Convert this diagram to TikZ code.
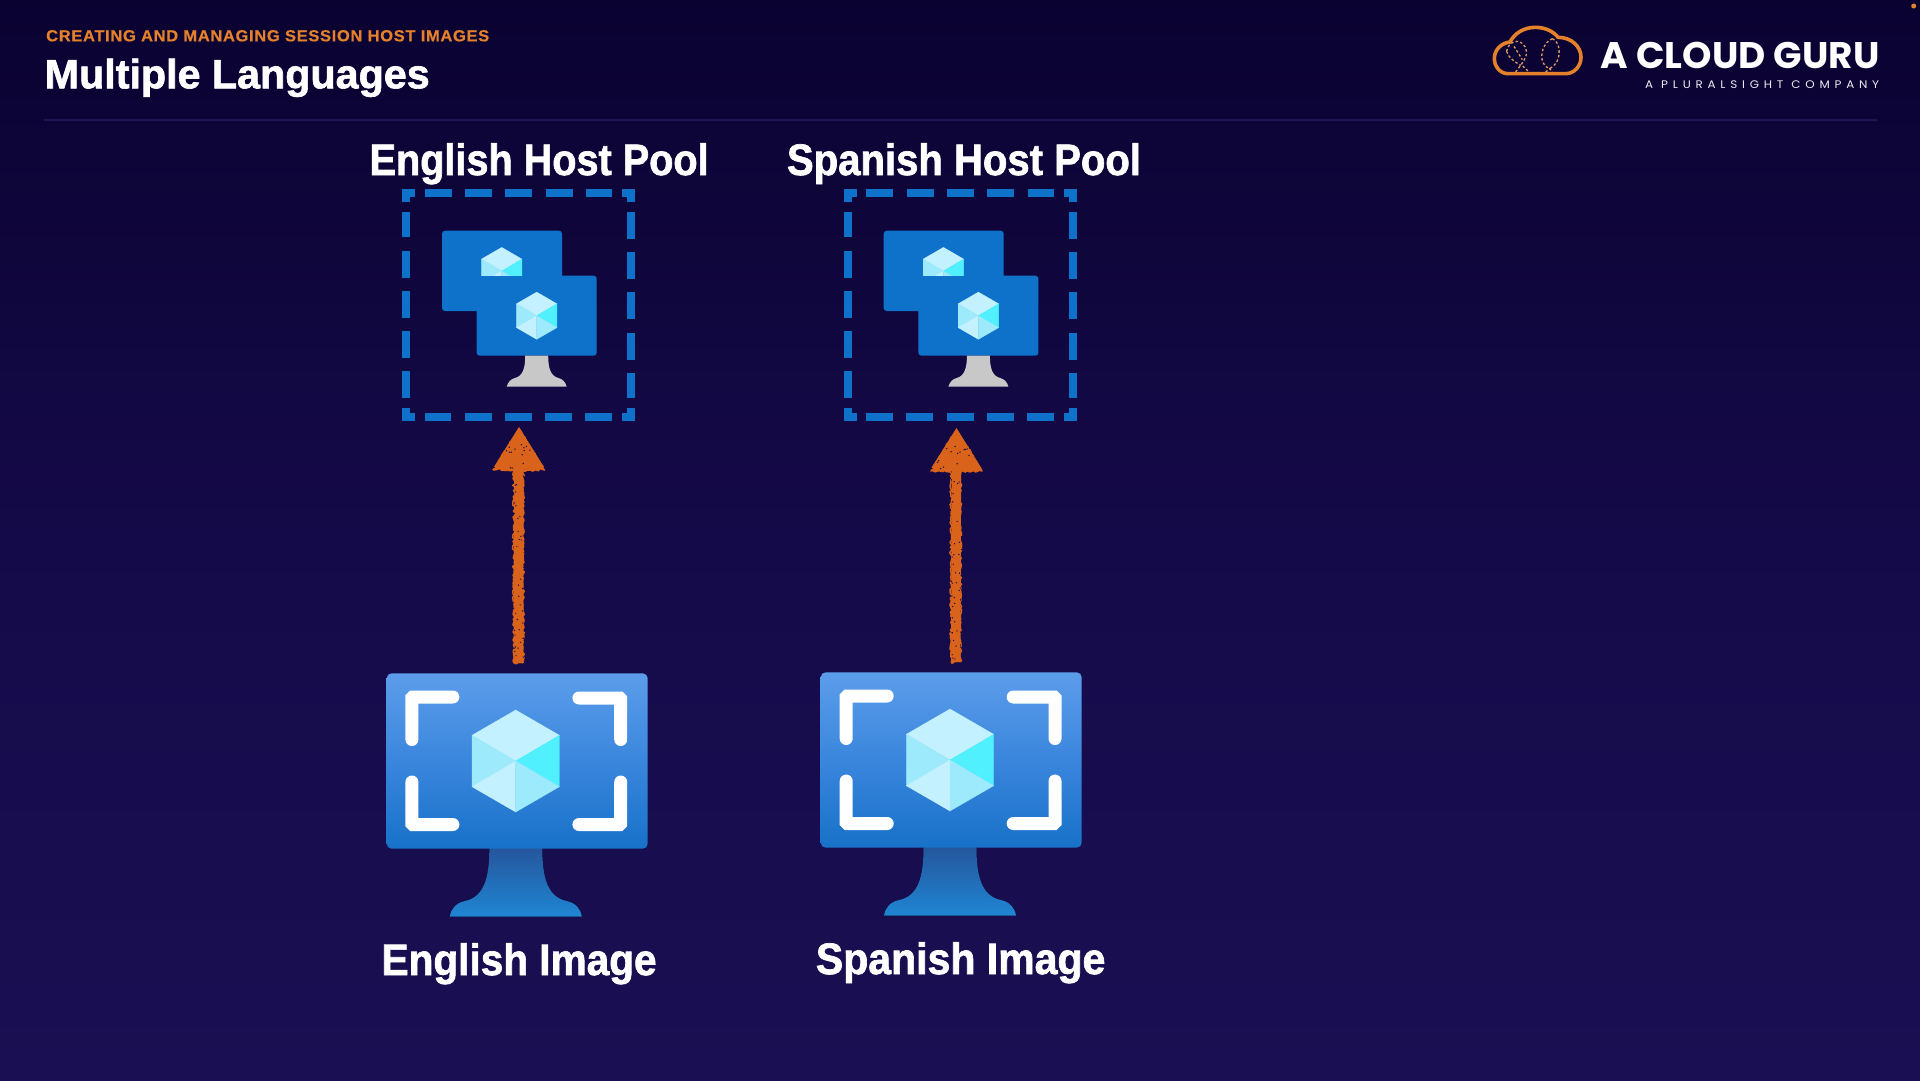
\documentclass[tikz,border=0pt]{standalone}
\usepackage{fontspec}
\setmainfont{Liberation Sans}
\newfontfamily\logofont{Poppins}
\usetikzlibrary{calc,arrows.meta,decorations.pathmorphing}
\definecolor{bgtop}{HTML}{0A0231}
\definecolor{bgmid}{HTML}{150A49}
\definecolor{bgbot}{HTML}{1A0F52}
\definecolor{acgorange}{HTML}{E5812B}
\definecolor{logodash}{HTML}{DE9A62}
\definecolor{chalk}{HTML}{D9631A}
\definecolor{poolblue}{HTML}{0F72CA}
\definecolor{cubeA}{HTML}{C3F1FF}
\definecolor{cubeB}{HTML}{9CEAFB}
\definecolor{cubeC}{HTML}{50F0FF}
\definecolor{scrtop}{HTML}{5C9DEA}
\definecolor{scrmid}{HTML}{3A86DD}
\definecolor{scrbot}{HTML}{1871C8}
\definecolor{standtop}{HTML}{25569C}
\definecolor{standbot}{HTML}{1F86D3}
\definecolor{rulecol}{HTML}{1E1552}
\definecolor{standgrey}{HTML}{C8C8C8}
\newcommand{\labelfit}[2]{\resizebox{#1pt}{\height}{#2}}
\tikzset{
  labeltext/.style={anchor=base west,inner sep=0,text=white,font=\fontsize{44}{48}\selectfont\bfseries\addfontfeature{FakeBold=1.6}},
  poolnode/.style={draw=none,inner sep=0,outer sep=0,minimum width=225pt,minimum height=224pt},
  poolline/.style={draw=poolblue,line width=8pt,line cap=butt,miter limit=10},
  pooldash/.style={poolline,shorten <=18.6pt,shorten >=18.6pt,dash pattern=on 27pt off 13.3pt},
  screennode/.style={draw=none,inner sep=0,outer sep=0,minimum width=261pt,minimum height=175.4pt,rounded corners=5pt,
    top color=scrtop,bottom color=scrbot,middle color=scrmid},
  bracket/.style={draw=white,line width=13pt,line cap=round,rounded corners=1pt},
  chalkline/.style={draw=chalk,line width=9.5pt,line cap=butt,-{Triangle[width=50pt,length=40pt,line width=0pt]}},
  chalkedge/.style={draw=chalk,line width=1.5pt,line join=round,decorate,decoration={random steps,segment length=2pt,amplitude=1.3pt}},
  speck/.style={fill=bgmid},
  facet/.style={fill=#1,draw=#1,line width=0.3pt,line join=round},
  vmcube/.pic={
    \path[facet=cubeA] (0,-51)--(43.7,-25.7)--(0,0)--(-43.7,-25.7)--cycle;
    \path[facet=cubeB] (-43.7,-25.7)--(0,0)--(-43.7,25.7)--cycle;
    \path[facet=cubeC] (43.7,-25.7)--(0,0)--(43.7,25.7)--cycle;
    \path[facet=cubeA] (-43.7,25.7)--(0,0)--(0,51)--cycle;
    \path[facet=cubeB] (43.7,25.7)--(0,0)--(0,51)--cycle;
  },
  bigstand/.pic={
    \fill[top color=standtop,bottom color=standbot]
      (-26.5,87) -- (26.5,87) .. controls (26.5,115) and (31,136) .. (51,140)
      .. controls (60,142) and (65,148) .. (66,155.7) -- (-66,155.7)
      .. controls (-65,148) and (-60,142) .. (-51,140)
      .. controls (-31,136) and (-26.5,115) .. (-26.5,87) -- cycle;
  },
  hostpc/.pic={
    \fill[poolblue,rounded corners=3pt] (-76.5,-74.3) rectangle (43.5,6);
    \fill[poolblue,rounded corners=3pt] (-41.8,-29.3) rectangle (78.2,50.7);
    \begin{scope}
      \clip (-60,-80) rectangle (30,-29.3);
      \pic[scale=0.463] at (-16.8,-34) {vmcube};
    \end{scope}
    \pic[scale=0.463] at (18.2,10.7) {vmcube};
    \fill[standgrey] (6.7,50.7) -- (29.7,50.7) .. controls (29.7,63) and (32,71) .. (40,73)
      .. controls (44,74) and (47,77) .. (48.2,81.7) -- (-11.8,81.7)
      .. controls (-10.6,77) and (-7.6,74) .. (-3.6,73)
      .. controls (4.4,71) and (6.7,63) .. (6.7,50.7) -- cycle;
  },
}
\newcommand{\pooldashes}[1]{%
  \draw[pooldash] (#1.north west) -- (#1.north east);
  \draw[pooldash] (#1.north east) -- (#1.south east);
  \draw[pooldash] (#1.south east) -- (#1.south west);
  \draw[pooldash] (#1.south west) -- (#1.north west);
  \draw[poolline] ($(#1.north west)+(0,9)$) -- (#1.north west) -- ($(#1.north west)+(9,0)$);
  \draw[poolline] ($(#1.north east)+(0,9)$) -- (#1.north east) -- ($(#1.north east)+(-9,0)$);
  \draw[poolline] ($(#1.south west)+(0,-9)$) -- (#1.south west) -- ($(#1.south west)+(9,0)$);
  \draw[poolline] ($(#1.south east)+(0,-9)$) -- (#1.south east) -- ($(#1.south east)+(-9,0)$);
}
\newcommand{\screenmarks}[1]{%
  \draw[bracket] ($(#1)+(-62.8,-64)$) -- ($(#1)+(-103.8,-64)$) -- ($(#1)+(-103.8,-21.5)$);
  \draw[bracket] ($(#1)+(63.2,-63)$) -- ($(#1)+(105,-63)$) -- ($(#1)+(105,-21.5)$);
  \draw[bracket] ($(#1)+(-62.8,63.5)$) -- ($(#1)+(-103.8,63.5)$) -- ($(#1)+(-103.8,21)$);
  \draw[bracket] ($(#1)+(63.2,63.5)$) -- ($(#1)+(105,63.5)$) -- ($(#1)+(105,21)$);
  \pic at (#1) {vmcube};
}
\newcommand{\chalkarrow}[2]{%
  \draw[chalkline] (#1) -- (#2);
  \draw[chalkedge] ($(#1)+(-4.6,0)$) -- ($(#1)+(-4.6,-192)$);
  \draw[chalkedge] ($(#1)+(4.6,0)$) -- ($(#1)+(4.6,-192)$);
  \draw[chalkedge] ($(#1)+(-4.6,0)$) -- ($(#1)+(4.6,0)$);
  \draw[chalkedge,fill=chalk] ($(#2)+(0,3)$) -- ($(#2)+(-25.5,43)$) -- ($(#2)+(25.5,43)$) -- cycle;
  \foreach \i in {1,...,44}{
    \pgfmathsetmacro{\sx}{-5.5+11*rnd}
    \pgfmathsetmacro{\sy}{48+185*rnd}
    \fill[speck] ($(#2)+(\sx,\sy)$) circle (0.7);
  }
  \foreach \i in {1,...,14}{
    \pgfmathsetmacro{\sy}{16+26*rnd}
    \pgfmathsetmacro{\sx}{(rnd-0.5)*1.1*\sy}
    \fill[speck] ($(#2)+(\sx,\sy)$) circle (0.75);
  }
}
\begin{document}
\begin{tikzpicture}[x=1pt,y=-1pt]
\useasboundingbox (0,0) rectangle (1920,1080);
\fill[top color=bgtop,bottom color=bgbot,middle color=bgmid] (0,0) rectangle (1920,1080);
\pgfmathsetseed{4242}

% header
\node[anchor=base west,inner sep=0,text=acgorange,font=\fontsize{16}{18}\selectfont\bfseries\addfontfeature{LetterSpace=4,FakeBold=0.5}] (kicker) at (46,41.3)
  {\labelfit{443}{CREATING AND MANAGING SESSION HOST IMAGES}};
\node[anchor=base west,inner sep=0,text=white,font=\fontsize{41}{44}\selectfont\bfseries\addfontfeature{FakeBold=1.6}] (title) at (44.5,88.3)
  {\labelfit{385}{Multiple Languages}};
\draw[draw=rulecol,line width=2.5pt] (44,120) -- (1877,120);

% logo
\begin{scope}[shift={(1484,18)},x=0.3333pt,y=-0.3333pt]
  \draw[acgorange,line width=3.6pt,line join=round]
    (72,167) .. controls (48,167) and (31,145) .. (31,122)
    .. controls (31,95) and (52,75) .. (78,72)
    .. controls (92,45) and (120,28) .. (155,28)
    .. controls (185,28) and (210,42) .. (222,58)
    .. controls (262,58) and (291,85) .. (291,118)
    .. controls (291,145) and (270,167) .. (245,167) -- cycle;
  \draw[logodash,line width=1.3pt,dash pattern=on 2.5pt off 2.2pt]
    (68,100) .. controls (70,85) and (80,72) .. (98,70)
    .. controls (122,72) and (132,95) .. (125,118)
    .. controls (120,130) and (112,132) .. (112,140) -- (135,162)
    (68,100) .. controls (72,118) and (90,130) .. (110,142)
    (90,85) -- (115,125)
    (95,162) -- (110,142);
  \draw[logodash,line width=1.3pt,dash pattern=on 2.5pt off 2.2pt]
    (205,62) .. controls (180,72) and (165,110) .. (178,135) .. controls (183,145) and (190,150) .. (197,152)
    (205,62) .. controls (230,72) and (232,120) .. (212,140) .. controls (205,147) and (200,150) .. (197,152)
    (185,162) -- (197,152) -- (205,162);
\end{scope}
\node[anchor=base west,inner sep=0,text=white,font=\logofont\fontsize{37}{40}\selectfont\bfseries] (logomain) at (1600.7,68.3)
  {\labelfit{278.5}{A CLOUD GURU}};
\node[anchor=base west,inner sep=0,text=white!92!bgtop,font=\logofont\fontsize{11}{14}\selectfont\addfontfeature{LetterSpace=40}] (logosub) at (1645,88.6)
  {\labelfit{234}{A PLURALSIGHT COMPANY}};
\fill[acgorange] (1913.7,6) circle (2.5);

% host pools
\node[poolnode] (poolA) at (518.5,305) {};
\node[poolnode] (poolB) at (960.2,305) {};
\pooldashes{poolA}
\pooldashes{poolB}
\pic at (poolA.center) {hostpc};
\pic at (poolB.center) {hostpc};
\node[labeltext] (poolAlabel) at (369.4,175) {\labelfit{339}{English Host Pool}};
\node[labeltext] (poolBlabel) at (786.8,175) {\labelfit{354}{Spanish Host Pool}};

% images
\pic at (515.8,761) {bigstand};
\pic at (950,760) {bigstand};
\node[screennode] (imgA) at (517.2,761) {};
\node[screennode] (imgB) at (951.2,760) {};
\coordinate (imgAc) at (515.7,761);
\coordinate (imgBc) at (950,760);
\screenmarks{imgAc}
\screenmarks{imgBc}
\node[labeltext] (imgAlabel) at (381.4,975) {\labelfit{275}{English Image}};
\node[labeltext] (imgBlabel) at (815.7,974) {\labelfit{289.5}{Spanish Image}};

% connectors
\coordinate (fromA) at ($(imgA.north)+(1.3,-10.3)$);
\coordinate (toA) at ($(poolA.south)+(0.5,10)$);
\coordinate (fromB) at ($(imgB.north)+(4.6,-10.3)$);
\coordinate (toB) at ($(poolB.south)+(-3.7,11)$);
\chalkarrow{fromA}{toA}
\chalkarrow{fromB}{toB}
\end{tikzpicture}
\end{document}
